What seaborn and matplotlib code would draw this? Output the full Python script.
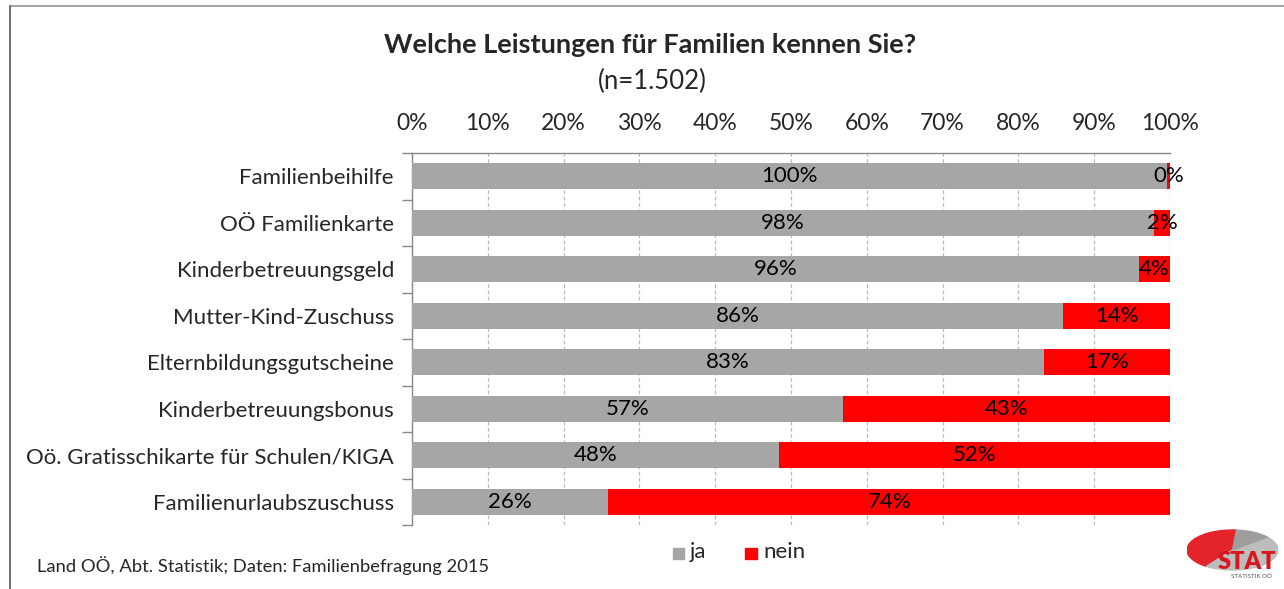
import matplotlib
matplotlib.use("Agg")
import matplotlib.pyplot as plt
from matplotlib.patches import Rectangle, Wedge
import pandas as pd
import seaborn as sns

# Data
categories = ["Familienbeihilfe", "OÖ Familienkarte", "Kinderbetreuungsgeld",
              "Mutter-Kind-Zuschuss", "Elternbildungsgutscheine",
              "Kinderbetreuungsbonus", "Oö. Gratisschikarte für Schulen/KIGA",
              "Familienurlaubszuschuss"]
ja = [99.6, 97.9, 95.9, 85.9, 83.4, 56.9, 48.4, 25.9]
nein = [100 - v for v in ja]
ticks = [0, 10, 20, 30, 40, 50, 60, 70, 80, 90, 100]

GRAY = "#A6A6A6"
RED = "#FF0000"

df = pd.DataFrame({"kategorie": categories, "ja": ja, "nein": nein})
df["total"] = df["ja"] + df["nein"]

sns.set_theme(style="white")
plt.rcParams["font.family"] = ["Lato", "DejaVu Sans"]

fig = plt.figure(figsize=(12.84, 5.89), dpi=100)
ax = fig.add_axes([412 / 1284, 1 - 525 / 589, 758 / 1284, 372 / 589])

# stacked bars: draw total in red, then ja in gray on top
sns.barplot(data=df, y="kategorie", x="total", color=RED, width=0.55,
            orient="h", ax=ax, saturation=1, edgecolor="none", zorder=3)
sns.barplot(data=df, y="kategorie", x="ja", color=GRAY, width=0.55,
            orient="h", ax=ax, saturation=1, edgecolor="none", zorder=3)

for i, (j, n) in enumerate(zip(ja, nein)):
    ax.text(j / 2, i, f"{round(j):.0f}%", ha="center", va="center",
            fontsize=16, color="black", zorder=5)
    ax.text(j + n / 2, i, f"{round(n):.0f}%", ha="center", va="center",
            fontsize=16, color="black", zorder=5)

ax.set_xlim(0, 100)
ax.set_ylim(len(categories) - 0.5, -0.5)
ax.set_xticks(ticks)
ax.set_xticklabels([f"{t}%" for t in ticks], fontsize=16.5)
ax.xaxis.tick_top()
ax.tick_params(axis="x", length=0, pad=14)
ax.set_yticks(range(len(categories)))
ax.set_yticklabels(categories, fontsize=16)
ax.tick_params(axis="y", length=0, pad=13)
ax.set_xlabel("")
ax.set_ylabel("")

# minor ticks between categories on the left spine
ax.set_yticks([i + 0.5 for i in range(-1, len(categories))], minor=True)
ax.tick_params(axis="y", which="minor", length=7, width=1, color="#888888",
               direction="out", left=True)
ax.grid(axis="x", color="#BBBBBB", linestyle=(0, (3, 2)), linewidth=0.9, zorder=0)

for side in ["right", "bottom"]:
    ax.spines[side].set_visible(False)
for side in ["top", "left"]:
    ax.spines[side].set_color("#888888")
    ax.spines[side].set_linewidth(1)

# titles
fig.text(650 / 1284, 1 - 45 / 589, "Welche Leistungen für Familien kennen Sie?",
         ha="center", va="center", fontsize=19.5, fontweight="bold")
fig.text(652 / 1284, 1 - 81 / 589, "(n=1.502)", ha="center", va="center", fontsize=18.5)

# legend
fig.patches.append(Rectangle((673 / 1284, 1 - 559 / 589), 11 / 1284, 11 / 589,
                             transform=fig.transFigure, color=GRAY))
fig.text(690 / 1284, 1 - 552 / 589, "ja", ha="left", va="center", fontsize=16)
fig.patches.append(Rectangle((745 / 1284, 1 - 559 / 589), 12 / 1284, 11 / 589,
                             transform=fig.transFigure, color=RED))
fig.text(763 / 1284, 1 - 552 / 589, "nein", ha="left", va="center", fontsize=16)

# footer
fig.text(37 / 1284, 1 - 566 / 589, "Land OÖ, Abt. Statistik; Daten: Familienbefragung 2015",
         ha="left", va="center", fontsize=13.2)

# frame lines
fig.add_artist(plt.Line2D([10 / 1284, 1], [1 - 6 / 589, 1 - 6 / 589],
                          transform=fig.transFigure, color="#A6A6A6", linewidth=1.5))
fig.add_artist(plt.Line2D([10 / 1284, 10 / 1284], [0, 1 - 6 / 589],
                          transform=fig.transFigure, color="#555555", linewidth=1.2))

# simple logo (elliptical pie + text)
lax = fig.add_axes([1187 / 1284, 1 - 580 / 589, 91 / 1284, 55 / 589])
lax.set_xlim(-1, 1)
lax.set_ylim(-1.5, 1.25)
lax.axis("off")
lax.add_patch(Wedge((0, 0), 1.0, 85, 235, color="#E3242B"))
lax.add_patch(Wedge((0, 0), 1.0, 235, 400, color="#BDBDBD"))
lax.add_patch(Wedge((0, 0), 1.0, 40, 85, color="#9E9E9E"))
lax.text(0.32, -0.62, "STAT", ha="center", va="center", fontsize=17,
         fontweight="heavy", color="#D7161F")
lax.text(0.42, -1.3, "STATISTIK OÖ", ha="center", va="center", fontsize=4.5,
         color="#555555")

fig.savefig("out.png", dpi=100)
